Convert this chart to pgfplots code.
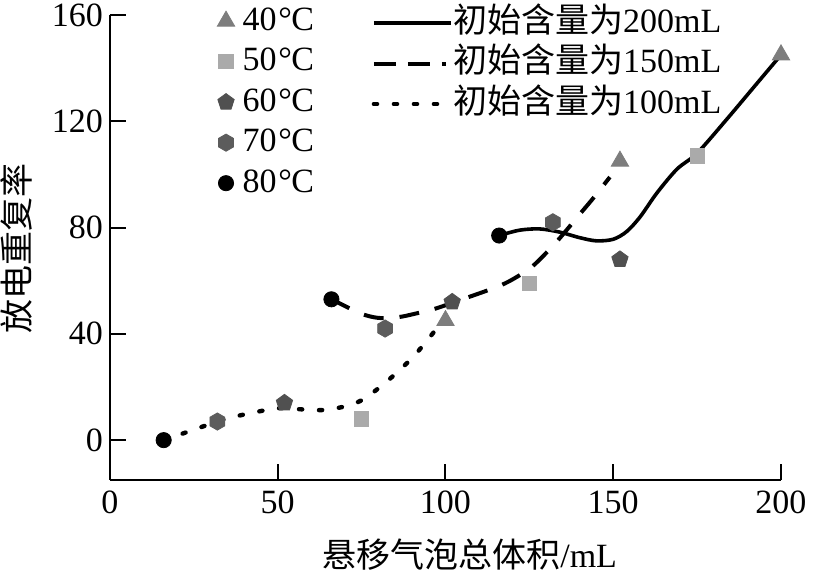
\documentclass[border=0pt]{standalone}
\usepackage{fontspec}
\setmainfont{Liberation Serif}
\newfontfamily\cjk{Noto Sans CJK SC}
\usepackage{pgfplots}
\pgfplotsset{compat=1.18}
\newcommand\fs{\fontsize{17pt}{20pt}\selectfont}
\newcommand\degC{\kern0.05em°\kern-0.02em C}
\definecolor{cforty}{RGB}{125,125,125}
\definecolor{cfifty}{RGB}{170,170,170}
\definecolor{csixty}{RGB}{80,80,80}
\definecolor{cseventy}{RGB}{92,92,92}
\pgfdeclareplotmark{hexagon*}{%
  \pgfpathmoveto{\pgfqpointpolar{90}{\pgfplotmarksize}}%
  \pgfpathlineto{\pgfqpointpolar{150}{\pgfplotmarksize}}%
  \pgfpathlineto{\pgfqpointpolar{210}{\pgfplotmarksize}}%
  \pgfpathlineto{\pgfqpointpolar{270}{\pgfplotmarksize}}%
  \pgfpathlineto{\pgfqpointpolar{330}{\pgfplotmarksize}}%
  \pgfpathlineto{\pgfqpointpolar{30}{\pgfplotmarksize}}%
  \pgfpathclose
  \pgfusepathqfillstroke}
\begin{document}
\begin{tikzpicture}
\begin{axis}[
  at={(0,0)}, anchor=south west,
  scale only axis, width=335.5pt, height=232.5pt,
  xmin=0, xmax=200, ymin=-15, ymax=160,
  axis lines*=left,
  xtick={0,50,...,200}, ytick={0,40,...,160},
  tick align=inside, major tick length=8pt,
  axis line style={line width=1pt, black},
  every tick/.style={line width=1pt, black},
  tick label style={font=\fs},
  xticklabel style={yshift=-2pt},
  /pgf/number format/assume math mode=true,
  clip=false,
  xlabel={{\cjk 悬移气泡总体积}/mL},
  ylabel={\cjk 放电重复率},
  label style={font=\fs},
  xlabel style={at={(axis description cs:0.536,-0.16)}, anchor=center},
  ylabel style={at={(axis description cs:-0.139,0.498)}, anchor=center},
  legend style={at={(axis description cs:0.16,1.019)}, anchor=north west,
    draw=none, fill=none, inner sep=0pt, outer sep=0pt,
    row sep=5.25pt, column sep=4pt, font=\fs,
    nodes={inner sep=0pt, text height=12pt, text depth=3pt}},
  legend cell align=left,
]
% 100 mL (dotted)
\addplot[forget plot, smooth, black, line width=2.2pt, line cap=round, dash pattern=on 1.6pt off 8.4pt] coordinates {
 (16,0) (24,3.5) (32,7) (37,8.8) (44,10.7) (50,12) (57,11.6) (63,11.3) (69,12.4) (75,15)
 (81,20.5) (86,26) (90.5,31.5) (94.5,37.5) (98,43) (101,48)};
% 150 mL (dashed)
\addplot[forget plot, smooth, black, line width=2pt, dash pattern=on 10pt off 8pt] coordinates {
 (66,53) (70,50.5) (75,47.5) (80,46) (86,46.3) (91,47.6) (97,49.5) (105,53) (115,57.5)
 (120,60.5) (126,65.5) (133,74.5) (140,85) (144,91) (149,99)};
% 200 mL (solid)
\addplot[forget plot, smooth, black, line width=1.8pt] coordinates {
 (116,77) (122,79) (128,79.5) (134,78.3) (140,76.2) (145,75) (150,75.6) (154,78.5)
 (158,84) (163,93) (169,102) (175,108) (184,121) (192,133) (200,145)};
% markers
\addplot[only marks, mark=triangle*, mark size=5pt, color=cforty] coordinates {(100,45) (152,105) (200,145)};
\addlegendentry{40\degC}
\addplot[only marks, mark=square*, mark size=3.6pt, color=cfifty] coordinates {(75,8) (125,59) (175,107)};
\addlegendentry{50\degC}
\addplot[only marks, mark=pentagon*, mark size=4.3pt, color=csixty] coordinates {(52,14) (102,52) (152,68)};
\addlegendentry{60\degC}
\addplot[only marks, mark=hexagon*, mark size=4.3pt, color=cseventy] coordinates {(32,7) (82,42) (132,82)};
\addlegendentry{70\degC}
\addplot[only marks, mark=*, mark size=3.8pt, color=black] coordinates {(16,0) (66,53) (116,77)};
\addlegendentry{80\degC}
\end{axis}
\begin{axis}[
  at={(0,0)}, anchor=south west,
  scale only axis, width=335.5pt, height=232.5pt,
  xmin=0, xmax=200, ymin=-15, ymax=160,
  hide axis,
  legend style={at={(axis description cs:0.39,1.015)}, anchor=north west,
    draw=none, fill=none, inner sep=0pt, outer sep=0pt,
    row sep=5.25pt, column sep=0pt, font=\fs,
    nodes={inner sep=0pt, text height=12pt, text depth=3pt}},
  legend cell align=left,
  legend image code/.code={\draw[#1] (0pt,0pt) -- (38.5pt,0pt);},
]
\addlegendimage{black, line width=1.8pt}
\addlegendentry{{\cjk 初始含量为}200mL}
\addlegendimage{black, line width=2pt, dash pattern=on 11pt off 6pt on 11pt off 6pt on 2pt off 10pt}
\addlegendentry{{\cjk 初始含量为}150mL}
\addlegendimage{black, line width=2.2pt, line cap=round, dash pattern=on 1.6pt off 8.4pt}
\addlegendentry{{\cjk 初始含量为}100mL}
\end{axis}
\pgfresetboundingbox
\path[use as bounding box] (-55pt,-49pt) rectangle (353pt,240pt);
\end{tikzpicture}
\end{document}
